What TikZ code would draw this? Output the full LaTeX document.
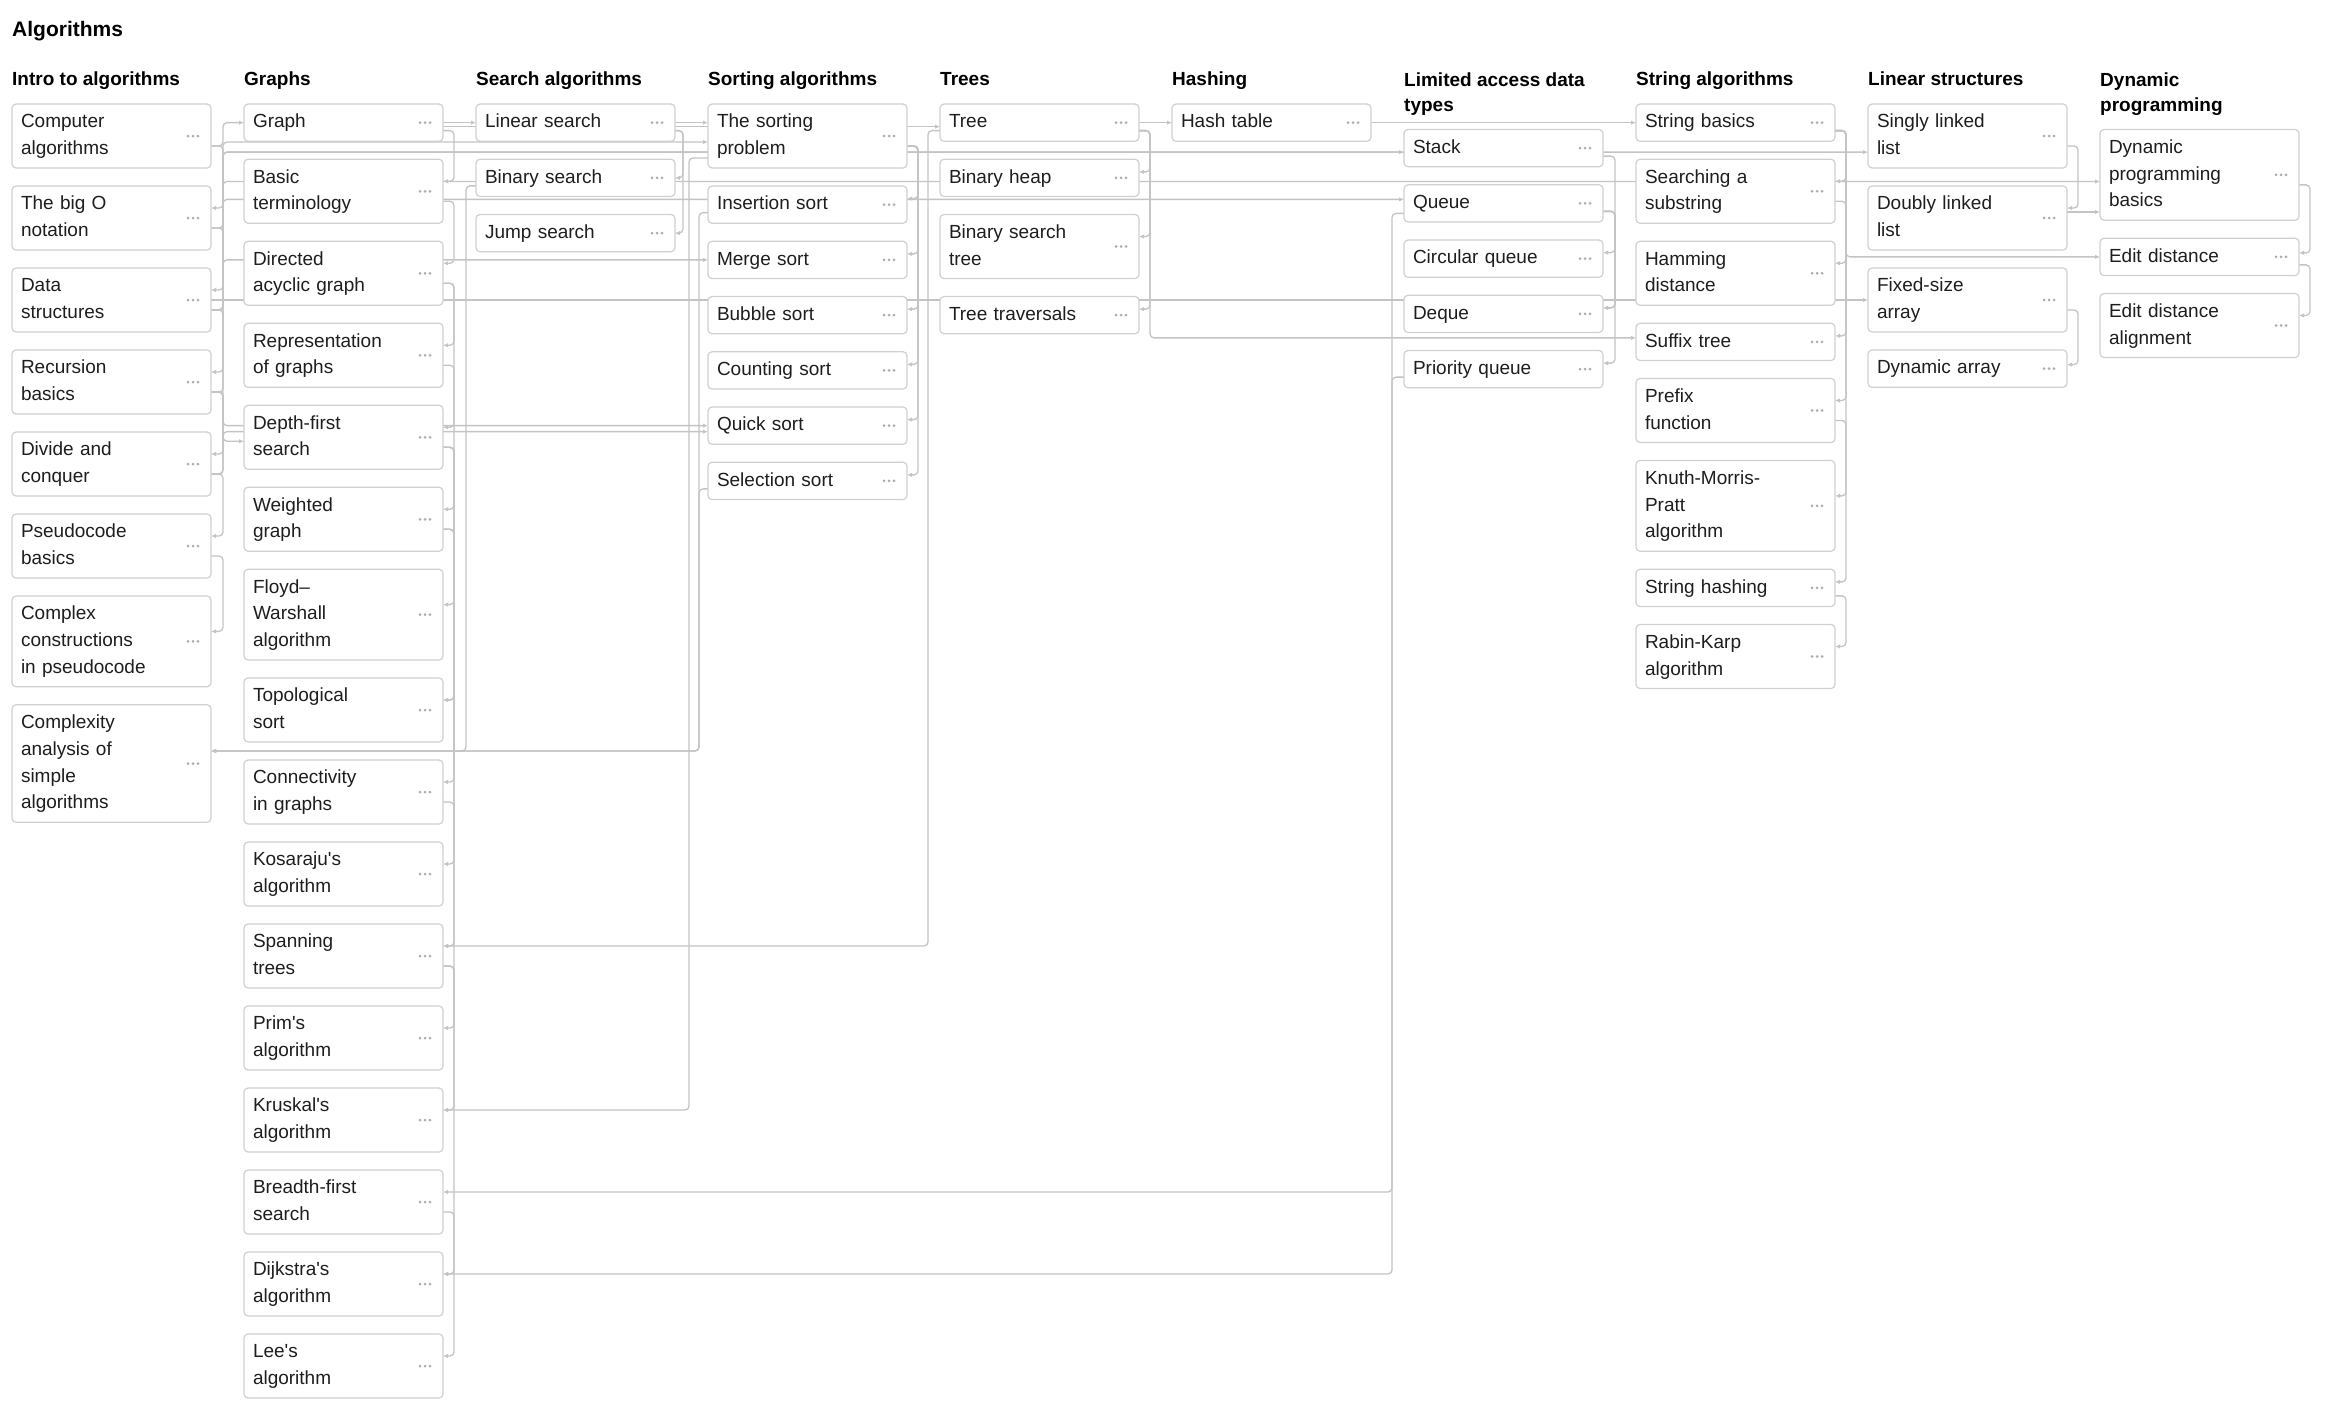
\documentclass[tikz,border=0pt]{standalone}
\usepackage{fontspec}
\setmainfont{Liberation Sans}
\usepackage{xcolor}
\usetikzlibrary{arrows.meta, positioning, backgrounds, calc}

\definecolor{ink}{HTML}{1E1E1E}
\definecolor{boxline}{HTML}{D0D0D0}
\definecolor{wire}{HTML}{C4C4C4}
\definecolor{dotcol}{HTML}{ADADAD}

\begin{document}
\begin{tikzpicture}[x=1pt, y=1pt,
        topic/.style={draw=boxline, line width=1.2pt, fill=white, rounded corners=4pt, outer sep=0pt,
            text width=181pt, inner xsep=9pt, inner ysep=5.25pt, align=left, text=ink,
            font=\fontsize{19}{26.75}\selectfont,
            execute at begin node=\strut, execute at end node=\strut,
            path picture={\foreach \k in {-5,0,5}
                \fill[dotcol] ([xshift={\k pt-18pt}]path picture bounding box.east) circle (1.5pt);}},
        head/.style={anchor=north west, inner sep=0pt, align=left, text=black,
            font=\fontsize{19}{25}\selectfont\bfseries, execute at begin node=\strut},
        link/.style={draw=wire, line width=1.3pt, rounded corners=4pt, -{Latex[length=5pt,width=4.5pt]}}
    ]
    \useasboundingbox (0,0) rectangle (2332,-1414);

    \node[anchor=base west, inner sep=0pt, font=\fontsize{21}{26}\selectfont\bfseries] (title) at (12,-36) {Algorithms};

    \node[head] (hintro) at (12,-68) {Intro to algorithms};
    \node[head] (hgraph) at (244,-68) {Graphs};
    \node[head] (hsearch) at (476,-68) {Search algorithms};
    \node[head] (hsort) at (708,-68) {Sorting algorithms};
    \node[head] (htree) at (940,-68) {Trees};
    \node[head] (hhash) at (1172,-68) {Hashing};
    \node[head] (hlimit) at (1404,-72.5) {Limited access data\\types};
    \node[head] (hstring) at (1636,-68) {String algorithms};
    \node[head] (hlinear) at (1868,-68) {Linear structures};
    \node[head] (hdp) at (2100,-72.5) {Dynamic\\programming};

    % Intro to algorithms
    \node[topic, anchor=north west] (ca) at (12,-104) {Computer\\algorithms};
    \node[topic, below=18pt of ca] (bigo) {The big O\\notation};
    \node[topic, below=18pt of bigo] (ds) {Data\\structures};
    \node[topic, below=18pt of ds] (rec) {Recursion\\basics};
    \node[topic, below=18pt of rec] (dnc) {Divide and\\conquer};
    \node[topic, below=18pt of dnc] (pseudo) {Pseudocode\\basics};
    \node[topic, below=18pt of pseudo] (complex) {Complex\\constructions\\in pseudocode};
    \node[topic, below=18pt of complex] (cplx) {Complexity\\analysis of\\simple\\algorithms};

    % Graphs
    \node[topic, anchor=north west] (graph) at (244,-104) {Graph};
    \node[topic, below=18pt of graph] (bt) {Basic\\terminology};
    \node[topic, below=18pt of bt] (dag) {Directed\\acyclic graph};
    \node[topic, below=18pt of dag] (repr) {Representation\\of graphs};
    \node[topic, below=18pt of repr] (dfs) {Depth-first\\search};
    \node[topic, below=18pt of dfs] (wg) {Weighted\\graph};
    \node[topic, below=18pt of wg] (fw) {Floyd--\\Warshall\\algorithm};
    \node[topic, below=18pt of fw] (topo) {Topological\\sort};
    \node[topic, below=18pt of topo] (conn) {Connectivity\\in graphs};
    \node[topic, below=18pt of conn] (kos) {Kosaraju\textquotesingle s\\algorithm};
    \node[topic, below=18pt of kos] (span) {Spanning\\trees};
    \node[topic, below=18pt of span] (prim) {Prim\textquotesingle s\\algorithm};
    \node[topic, below=18pt of prim] (krus) {Kruskal\textquotesingle s\\algorithm};
    \node[topic, below=18pt of krus] (bfs) {Breadth-first\\search};
    \node[topic, below=18pt of bfs] (dij) {Dijkstra\textquotesingle s\\algorithm};
    \node[topic, below=18pt of dij] (lee) {Lee\textquotesingle s\\algorithm};

    % Search algorithms
    \node[topic, anchor=north west] (lin) at (476,-104) {Linear search};
    \node[topic, below=18pt of lin] (bin) {Binary search};
    \node[topic, below=18pt of bin] (jump) {Jump search};

    % Sorting algorithms
    \node[topic, anchor=north west] (sortp) at (708,-104) {The sorting\\problem};
    \node[topic, below=18pt of sortp] (ins) {Insertion sort};
    \node[topic, below=18pt of ins] (merge) {Merge sort};
    \node[topic, below=18pt of merge] (bubble) {Bubble sort};
    \node[topic, below=18pt of bubble] (count) {Counting sort};
    \node[topic, below=18pt of count] (quick) {Quick sort};
    \node[topic, below=18pt of quick] (sel) {Selection sort};

    % Trees
    \node[topic, anchor=north west] (tree) at (940,-104) {Tree};
    \node[topic, below=18pt of tree] (heap) {Binary heap};
    \node[topic, below=18pt of heap] (bst) {Binary search\\tree};
    \node[topic, below=18pt of bst] (trav) {Tree traversals};

    % Hashing
    \node[topic, anchor=north west] (hash) at (1172,-104) {Hash table};

    % Limited access data types
    \node[topic, anchor=north west] (stack) at (1404,-129.5) {Stack};
    \node[topic, below=18pt of stack] (queue) {Queue};
    \node[topic, below=18pt of queue] (cqueue) {Circular queue};
    \node[topic, below=18pt of cqueue] (deque) {Deque};
    \node[topic, below=18pt of deque] (pq) {Priority queue};

    % String algorithms
    \node[topic, anchor=north west] (sbasic) at (1636,-104) {String basics};
    \node[topic, below=18pt of sbasic] (substr) {Searching a\\substring};
    \node[topic, below=18pt of substr] (hamm) {Hamming\\distance};
    \node[topic, below=18pt of hamm] (suffix) {Suffix tree};
    \node[topic, below=18pt of suffix] (prefix) {Prefix\\function};
    \node[topic, below=18pt of prefix] (kmp) {Knuth-Morris-\\Pratt\\algorithm};
    \node[topic, below=18pt of kmp] (shash) {String hashing};
    \node[topic, below=18pt of shash] (rk) {Rabin-Karp\\algorithm};

    % Linear structures
    \node[topic, anchor=north west] (sll) at (1868,-104) {Singly linked\\list};
    \node[topic, below=18pt of sll] (dll) {Doubly linked\\list};
    \node[topic, below=18pt of dll] (farr) {Fixed-size\\array};
    \node[topic, below=18pt of farr] (darr) {Dynamic array};

    % Dynamic programming
    \node[topic, anchor=north west] (dpb) at (2100,-129.5) {Dynamic\\programming\\basics};
    \node[topic, below=18pt of dpb] (edit) {Edit distance};
    \node[topic, below=18pt of edit] (edital) {Edit distance\\alignment};

    \coordinate (dsrow) at ([yshift=-4pt]stack.west);

    \begin{scope}[on background layer]
        \fill[white] (0,0) rectangle (2332,-1414);

        % intro
        \foreach \a/\b in {ca/bigo, bigo/ds, ds/rec, rec/dnc, dnc/pseudo, pseudo/complex}
            \draw[link] ([yshift=-10pt]\a.east) -- ++(12,0) |- ([yshift=10pt]\b.east);
        \draw[link] ([yshift=-10pt]ca.east) -- ++(12,0) |- (graph.west);
        \draw[link] ([yshift=-10pt]bigo.east) -- ++(12,0) |- ([yshift=-6pt]sortp.west);
        \draw[link] ([yshift=-10pt]ds.east) -- ++(12,0) |- (dsrow);
        \draw[link] ([yshift=-10pt]ds.east) -- ++(12,0) |- (sll.west |- dsrow);
        \draw[link] ([yshift=-10pt]ds.east) -- ++(12,0) |- ([yshift=4pt]queue.west);
        \draw[link] (ds.east) -- (farr.west);
        \draw[link] ([yshift=-10pt]rec.east) -- ++(12,0) |- ([yshift=-4pt]dfs.west);
        \draw[link] ([yshift=-10pt]rec.east) -- ++(12,0) |- (quick.west);
        \draw[link] ([yshift=-10pt]rec.east) -- ++(12,0) |- ([yshift=-6.6pt]dpb.west);
        \draw[link] ([yshift=-10pt]dnc.east) -- ++(12,0) |- (merge.west);
        \draw[link] ([yshift=-10pt]dnc.east) -- ++(12,0) |- ([yshift=-6pt]quick.west);

        % graphs
        \draw[link] ([yshift=-8pt]graph.east) -- ++(11,0) |- ([yshift=10pt]bt.east);
        \foreach \a/\b in {bt/dag, dag/repr, repr/dfs, dfs/wg, wg/fw, dag/topo, dfs/topo, dfs/conn,
                conn/kos, wg/span, span/prim, span/krus, wg/dij, bfs/lee}
            \draw[link] ([yshift=-10pt]\a.east) -- ++(11,0) |- ([yshift=10pt]\b.east);
        \draw[link] (graph.east) -- (lin.west);
        \draw[link] ([yshift=-4pt]graph.east) -- ([yshift=-4pt]tree.west);

        % search
        \draw[link] (lin.east) -- (lin.east -| sortp.west);
        \draw[link] ([yshift=-8pt]lin.east) -- ++(8,0) |- (bin.east);
        \draw[link] ([yshift=-8pt]lin.east) -- ++(8,0) |- (jump.east);
        \draw[link] ([yshift=-8pt]bin.west) -- ++(-10,0) |- ([yshift=12.5pt]cplx.east);

        % sorting
        \foreach \b in {ins, merge, bubble, count, quick, sel}
            \draw[link] ([yshift=-10pt]sortp.east) -- ++(11,0) |- ([yshift=6pt]\b.east);
        \draw[link] ([yshift=-8pt]ins.west) -- ++(-9,0) |- ([yshift=12.5pt]cplx.east);
        \draw[link] ([yshift=-8pt]sel.west) -- ++(-9,0) |- ([yshift=12.5pt]cplx.east);
        \draw[link] ([yshift=-22pt]sortp.west) -- ++(-19,0) |- ([yshift=10pt]krus.east);

        % trees and hashing
        \draw[link] (tree.east) -- (hash.west);
        \foreach \b/\s in {heap/6, bst/10, trav/6}
            \draw[link] ([yshift=-8pt]tree.east) -- ++(11,0) |- ([yshift=\s pt]\b.east);
        \draw[link] ([yshift=-8pt]tree.east) -- ++(11,0) |- ([yshift=4pt]suffix.west);
        \draw[link] ([yshift=-8pt]tree.west) -- ++(-12,0) |- ([yshift=10pt]span.east);
        \draw[link] (hash.east) -- (sbasic.west);

        % limited access data types
        \draw[link] ([yshift=-8pt]stack.east) -- ++(12,0) |- ([yshift=6pt]deque.east);
        \foreach \b in {cqueue, deque, pq}
            \draw[link] ([yshift=-8pt]queue.east) -- ++(12,0) |- ([yshift=6pt]\b.east);
        \draw[link] ([yshift=-10pt]queue.west) -- ++(-12,0) |- ([yshift=10pt]bfs.east);
        \draw[link] ([yshift=-8pt]pq.west) -- ++(-12,0) |- ([yshift=10pt]dij.east);

        % strings
        \foreach \b/\s in {substr/10, hamm/10, suffix/6, prefix/10, shash/6}
            \draw[link] ([yshift=-8pt]sbasic.east) -- ++(11,0) |- ([yshift=\s pt]\b.east);
        \draw[link] ([yshift=-10pt]prefix.east) -- ++(11,0) |- ([yshift=10pt]kmp.east);
        \draw[link] ([yshift=-8pt]shash.east) -- ++(11,0) |- ([yshift=10pt]rk.east);
        \draw[link] ([yshift=-10pt]substr.east) -- ++(11,0) |- (edit.west);

        % linear structures and dp
        \draw[link] ([yshift=-10pt]sll.east) -- ++(11,0) |- ([yshift=10pt]dll.east);
        \draw[link] ([yshift=-10pt]farr.east) -- ++(11,0) |- ([yshift=4pt]darr.east);
        \draw[link] ([yshift=6pt]dll.east) -- ([yshift=6pt]dll.east -| dpb.west);
        \draw[link] ([yshift=-10pt]dpb.east) -- ++(11,0) |- ([yshift=4pt]edit.east);
        \draw[link] ([yshift=-8pt]edit.east) -- ++(11,0) |- ([yshift=10pt]edital.east);
    \end{scope}
\end{tikzpicture}
\end{document}
